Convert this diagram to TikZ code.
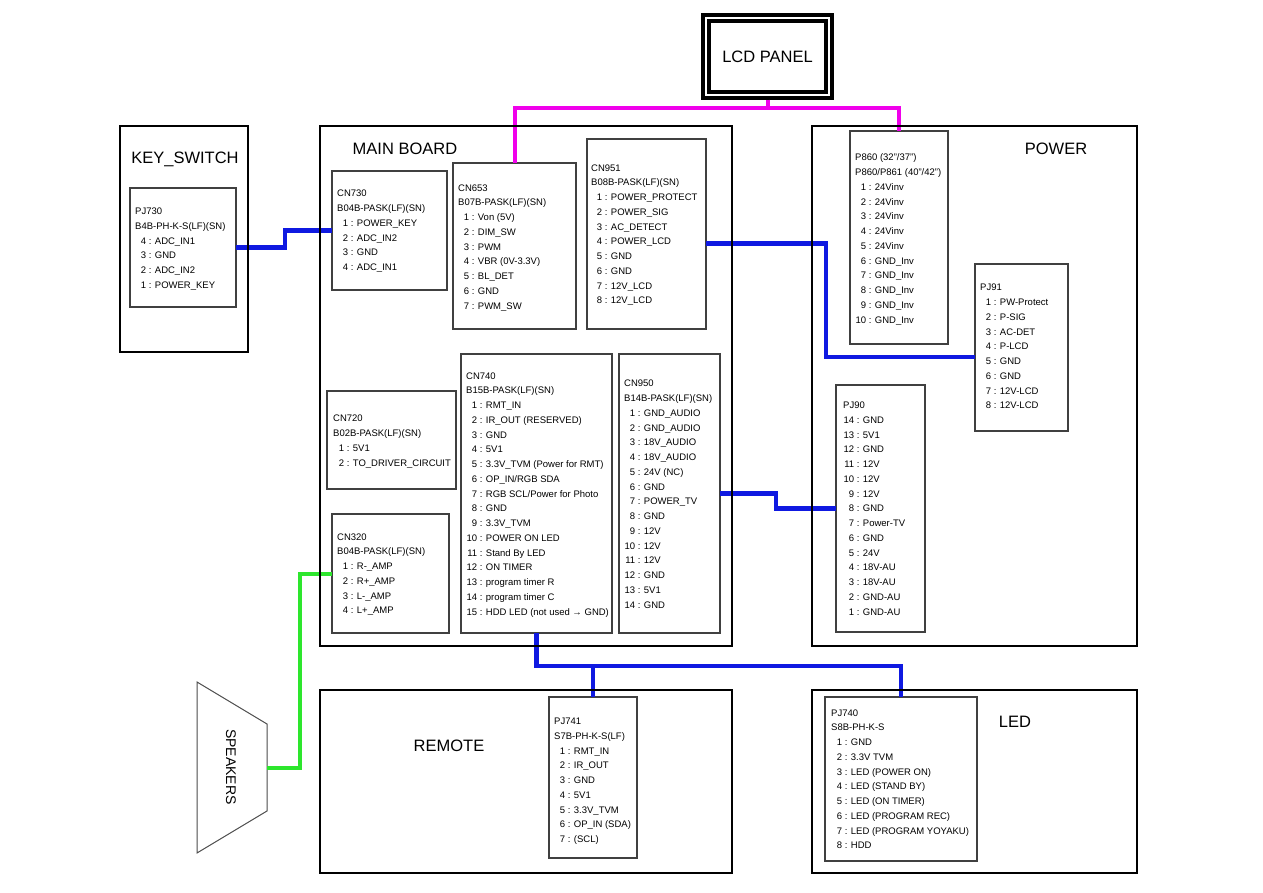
\documentclass[tikz,border=0pt]{standalone}
\usepackage{fontspec}
\setmainfont{Liberation Sans}
\usetikzlibrary{calc}
\definecolor{wireblue}{RGB}{15,25,225}
\definecolor{wirepink}{RGB}{240,0,235}
\definecolor{wiregreen}{RGB}{45,230,45}
\newcommand{\pinfont}{\fontsize{9.5}{14.75}\selectfont}
\newcommand{\pn}[2]{\makebox[1.15em][r]{#1} : #2}
\tikzset{
    unitbox/.style={draw, line width=2.8pt, inner sep=0pt, outer sep=0pt, anchor=north west},
    portbox/.style={draw=black!75, line width=1.1pt, inner sep=0pt, outer sep=0pt, anchor=north west},
    pinlist/.style={anchor=north west, inner sep=0pt, align=left, font=\pinfont},
    unittitle/.style={font=\fontsize{16.5}{20}\selectfont},
    bluewire/.style={draw=wireblue, line width=4.5pt},
    pinkwire/.style={draw=wirepink, line width=4pt},
    greenwire/.style={draw=wiregreen, line width=4pt}
}

\begin{document}
\begin{tikzpicture}[x=1pt, y=-1pt]
\fill[white] (0,0) rectangle (1263,893);
\useasboundingbox (0,0) rectangle (1263,893);

\node[draw, line width=3.5pt, double, double distance=2.5pt, minimum width=123pt, minimum height=77pt,
    outer sep=4.75pt, font=\fontsize{16.5}{20}\selectfont] (lcd) at (767.5,56.5) {LCD PANEL};

\node[portbox, minimum width=106pt, minimum height=119pt] (pj730) at (130,188) {};
\node[portbox, minimum width=115pt, minimum height=119pt] (cn730) at (332,171) {};
\node[portbox, minimum width=123pt, minimum height=166pt] (cn653) at (453,163) {};
\node[portbox, minimum width=119pt, minimum height=190pt] (cn951) at (587,139) {};
\node[portbox, minimum width=98pt, minimum height=213pt] (p860) at (850,131) {};
\node[portbox, minimum width=93pt, minimum height=167pt] (pj91) at (975,264) {};
\node[portbox, minimum width=129pt, minimum height=98pt] (cn720) at (327,391) {};
\node[portbox, minimum width=117pt, minimum height=119pt] (cn320) at (332,514) {};
\node[portbox, minimum width=151pt, minimum height=279pt] (cn740) at (461,354) {};
\node[portbox, minimum width=101pt, minimum height=279pt] (cn950) at (619,354) {};
\node[portbox, minimum width=89pt, minimum height=247pt] (pj90) at (836,385) {};
\node[portbox, minimum width=88pt, minimum height=161pt] (pj741) at (549,697) {};
\node[portbox, minimum width=152pt, minimum height=164pt] (pj740) at (825,697) {};

\node[pinlist] (pj730pins) at (135,204.2) {\strut PJ730\\B4B-PH-K-S(LF)(SN)\\\pn{4}{ADC\_IN1}\\\pn{3}{GND}\\\pn{2}{ADC\_IN2}\\\pn{1}{POWER\_KEY}};
\node[pinlist] (cn730pins) at (337,186.4) {\strut CN730\\B04B-PASK(LF)(SN)\\\pn{1}{POWER\_KEY}\\\pn{2}{ADC\_IN2}\\\pn{3}{GND}\\\pn{4}{ADC\_IN1}};
\node[pinlist] (cn653pins) at (458,180.7) {\strut CN653\\B07B-PASK(LF)(SN)\\\pn{1}{Von (5V)}\\\pn{2}{DIM\_SW}\\\pn{3}{PWM}\\\pn{4}{VBR (0V-3.3V)}\\\pn{5}{BL\_DET}\\\pn{6}{GND}\\\pn{7}{PWM\_SW}};
\node[pinlist] (cn951pins) at (591,160.7) {\strut CN951\\B08B-PASK(LF)(SN)\\\pn{1}{POWER\_PROTECT}\\\pn{2}{POWER\_SIG}\\\pn{3}{AC\_DETECT}\\\pn{4}{POWER\_LCD}\\\pn{5}{GND}\\\pn{6}{GND}\\\pn{7}{12V\_LCD}\\\pn{8}{12V\_LCD}};
\node[pinlist] (p860pins) at (855,150.4) {\strut P860 (32"/37")\\P860/P861 (40"/42")\\\pn{1}{24Vinv}\\\pn{2}{24Vinv}\\\pn{3}{24Vinv}\\\pn{4}{24Vinv}\\\pn{5}{24Vinv}\\\pn{6}{GND\_Inv}\\\pn{7}{GND\_Inv}\\\pn{8}{GND\_Inv}\\\pn{9}{GND\_Inv}\\\pn{10}{GND\_Inv}};
\node[pinlist] (pj91pins) at (980,280.4) {\strut PJ91\\\pn{1}{PW-Protect}\\\pn{2}{P-SIG}\\\pn{3}{AC-DET}\\\pn{4}{P-LCD}\\\pn{5}{GND}\\\pn{6}{GND}\\\pn{7}{12V-LCD}\\\pn{8}{12V-LCD}};
\node[pinlist] (cn720pins) at (333,411.4) {\strut CN720\\B02B-PASK(LF)(SN)\\\pn{1}{5V1}\\\pn{2}{TO\_DRIVER\_CIRCUIT}};
\node[pinlist] (cn320pins) at (337,529.7) {\strut CN320\\B04B-PASK(LF)(SN)\\\pn{1}{R-\_AMP}\\\pn{2}{R+\_AMP}\\\pn{3}{L-\_AMP}\\\pn{4}{L+\_AMP}};
\node[pinlist] (cn740pins) at (466,368.7) {\strut CN740\\B15B-PASK(LF)(SN)\\\pn{1}{RMT\_IN}\\\pn{2}{IR\_OUT (RESERVED)}\\\pn{3}{GND}\\\pn{4}{5V1}\\\pn{5}{3.3V\_TVM (Power for RMT)}\\\pn{6}{OP\_IN/RGB SDA}\\\pn{7}{RGB SCL/Power for Photo}\\\pn{8}{GND}\\\pn{9}{3.3V\_TVM}\\\pn{10}{POWER ON LED}\\\pn{11}{Stand By LED}\\\pn{12}{ON TIMER}\\\pn{13}{program timer R}\\\pn{14}{program timer C}\\\pn{15}{HDD LED (not used → GND)}};
\node[pinlist] (cn950pins) at (624,376.4) {\strut CN950\\B14B-PASK(LF)(SN)\\\pn{1}{GND\_AUDIO}\\\pn{2}{GND\_AUDIO}\\\pn{3}{18V\_AUDIO}\\\pn{4}{18V\_AUDIO}\\\pn{5}{24V (NC)}\\\pn{6}{GND}\\\pn{7}{POWER\_TV}\\\pn{8}{GND}\\\pn{9}{12V}\\\pn{10}{12V}\\\pn{11}{12V}\\\pn{12}{GND}\\\pn{13}{5V1}\\\pn{14}{GND}};
\node[pinlist] (pj90pins) at (843,398.1) {\strut PJ90\\\pn{14}{GND}\\\pn{13}{5V1}\\\pn{12}{GND}\\\pn{11}{12V}\\\pn{10}{12V}\\\pn{9}{12V}\\\pn{8}{GND}\\\pn{7}{Power-TV}\\\pn{6}{GND}\\\pn{5}{24V}\\\pn{4}{18V-AU}\\\pn{3}{18V-AU}\\\pn{2}{GND-AU}\\\pn{1}{GND-AU}};
\node[pinlist] (pj741pins) at (554,714.1) {\strut PJ741\\S7B-PH-K-S(LF)\\\pn{1}{RMT\_IN}\\\pn{2}{IR\_OUT}\\\pn{3}{GND}\\\pn{4}{5V1}\\\pn{5}{3.3V\_TVM}\\\pn{6}{OP\_IN (SDA)}\\\pn{7}{(SCL)}};
\node[pinlist] (pj740pins) at (831,705.7) {\strut PJ740\\S8B-PH-K-S\\\pn{1}{GND}\\\pn{2}{3.3V TVM}\\\pn{3}{LED (POWER ON)}\\\pn{4}{LED (STAND BY)}\\\pn{5}{LED (ON TIMER)}\\\pn{6}{LED (PROGRAM REC)}\\\pn{7}{LED (PROGRAM YOYAKU)}\\\pn{8}{HDD}};

\draw[draw=black!70, line width=1pt] (197,682) -- (267,724) -- (267,811) -- (197,853) -- cycle;
\coordinate (spk) at (267,767.5);
\node[rotate=-90, font=\fontsize{14}{16}\selectfont] (spktext) at (231,767) {SPEAKERS};

\coordinate (lcdbus) at (lcd.south |- 0,108);
\coordinate (pwrbend) at (826,300);
\coordinate (tvbend) at (776,500);
\coordinate (rmtbus) at (pj741.north |- 0,666);
\draw[pinkwire] (lcd.south) -- (lcdbus);
\draw[pinkwire] (cn653.north) |- (lcdbus) -| (p860.north);
\draw[bluewire] (pj730.east) -- ++(49,0) |- (cn730.west);
\draw[bluewire] ([yshift=-9.5pt]cn951.east) -| (pwrbend) |- ([yshift=-9.5pt]pj91.west);
\draw[bluewire] (cn950.east) -| (tvbend) |- (pj90.west);
\draw[bluewire] (cn740.south) |- (rmtbus) -| (pj740.north);
\draw[bluewire] (rmtbus) -- (pj741.north);
\draw[greenwire] (cn320.west) -- ++(-32,0) |- (spk);

\node[unitbox, minimum width=128pt, minimum height=226pt] (keysw) at (120,126) {};
\node[unitbox, minimum width=412pt, minimum height=520pt] (mainbd) at (320,126) {};
\node[unitbox, minimum width=325pt, minimum height=520pt] (power) at (812,126) {};
\node[unitbox, minimum width=412pt, minimum height=183pt] (remote) at (320,690) {};
\node[unitbox, minimum width=325pt, minimum height=183pt] (led) at (812,690) {};

\node[unittitle] (keytitle) at (185,159) {KEY\_SWITCH};
\node[unittitle] (maintitle) at (405,149) {MAIN BOARD};
\node[unittitle] (powertitle) at (1056,149) {POWER};
\node[unittitle] (remotetitle) at (449,746) {REMOTE};
\node[unittitle] (ledtitle) at (1015,722) {LED};
\end{tikzpicture}
\end{document}
